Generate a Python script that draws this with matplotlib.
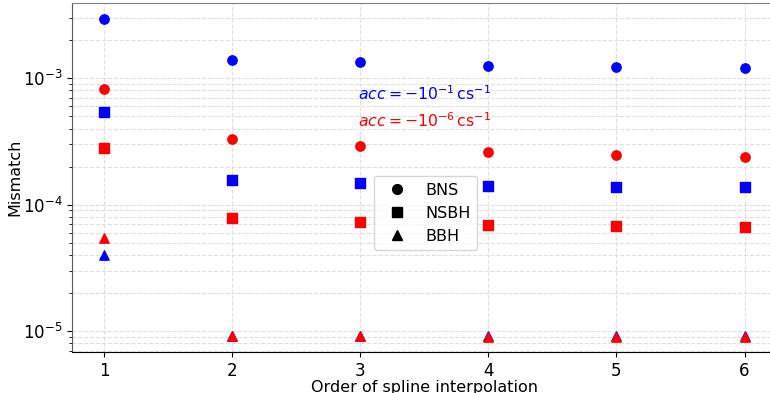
import numpy as np
import matplotlib.pyplot as plt
from matplotlib.lines import Line2D

order = [1, 2, 3, 4, 5, 6]

# mismatch values, acc = -1e-1 (blue) and acc = -1e-6 (red)
bns_hi = [2.92e-3, 1.39e-3, 1.34e-3, 1.245e-3, 1.22e-3, 1.21e-3]
bns_lo = [8.2e-4, 3.3e-4, 2.9e-4, 2.6e-4, 2.46e-4, 2.37e-4]
nsbh_hi = [5.38e-4, 1.58e-4, 1.49e-4, 1.41e-4, 1.39e-4, 1.39e-4]
nsbh_lo = [2.79e-4, 7.9e-5, 7.35e-5, 6.85e-5, 6.75e-5, 6.65e-5]
bbh_hi = [4.03e-5, 9.15e-6, 9.1e-6, 9.1e-6, 9.1e-6, 9.1e-6]
bbh_lo = [5.48e-5, 9.2e-6, 9.1e-6, 9.0e-6, 9.05e-6, 9.0e-6]

fig = plt.figure(figsize=(7.7, 3.93), dpi=100)
ax = fig.add_axes([0.0935, 0.104, 0.915, 0.888])

ms = 45
ax.scatter(order, bns_hi, marker='o', color='blue', s=ms, zorder=3)
ax.scatter(order, nsbh_hi, marker='s', color='blue', s=ms, zorder=3)
ax.scatter(order, bbh_hi, marker='^', color='blue', s=ms, zorder=3)
ax.scatter(order, bns_lo, marker='o', color='red', s=ms, zorder=3)
ax.scatter(order, nsbh_lo, marker='s', color='red', s=ms, zorder=3)
ax.scatter(order, bbh_lo, marker='^', color='red', s=ms, zorder=3)

ax.set_yscale('log')
ax.set_xlim(0.75, 6.25)
ax.set_ylim(6.82e-6, 3.92e-3)
ax.set_xticks(order)
ax.tick_params(labelsize=12)
ax.grid(True, which='both', linestyle='--', color='0.88', linewidth=0.8)
ax.grid(False, which='minor', axis='x')
ax.set_axisbelow(True)
ax.spines['top'].set_color('0.5')
ax.spines['left'].set_color('0.35')

ax.set_xlabel('Order of spline interpolation', fontsize=11.5)
ax.set_ylabel('Mismatch', fontsize=11.5)
ax.xaxis.set_label_coords(0.5, -0.08)
ax.yaxis.set_label_coords(-0.071, 0.5)

ax.text(2.98, 7.6e-4, r'$acc = -10^{-1}\,\mathrm{cs}^{-1}$', color='blue',
        fontsize=11.3, ha='left', va='center')
ax.text(2.98, 4.6e-4, r'$acc = -10^{-6}\,\mathrm{cs}^{-1}$', color='red',
        fontsize=11.3, ha='left', va='center')

handles = [Line2D([], [], marker=m, color='k', linestyle='none', markersize=7)
           for m in ['o', 's', '^']]
ax.legend(handles, ['BNS', 'NSBH', 'BBH'], loc='upper left',
          bbox_to_anchor=(0.429, 0.504), borderaxespad=0,
          fontsize=11.5, labelspacing=0.5)

fig.savefig('out.png', dpi=100)
